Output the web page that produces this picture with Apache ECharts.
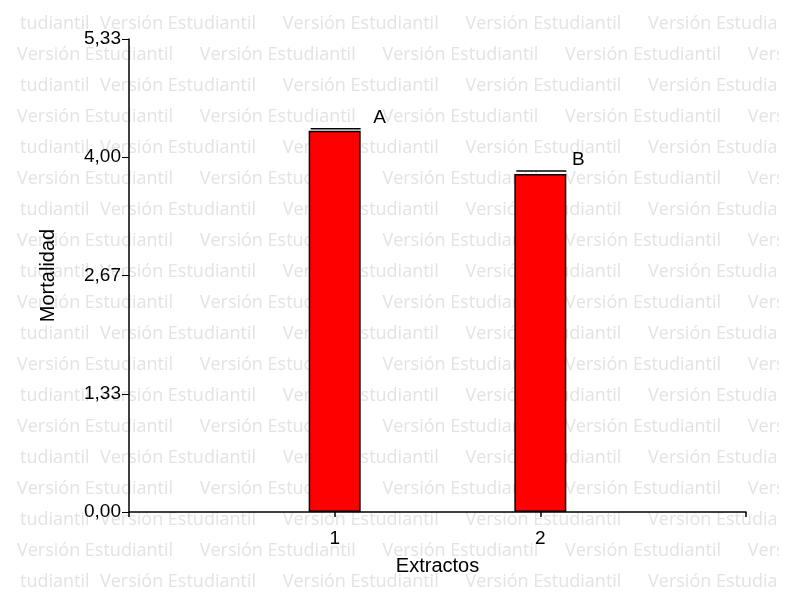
<!DOCTYPE html>
<html>
<head>
<meta charset="utf-8">
<script src="https://cdn.jsdelivr.net/npm/echarts@6/dist/echarts.min.js"></script>
<style>html,body{margin:0;padding:0;background:#fff;}#c{width:794px;height:594px;}</style>
</head>
<body>
<div id="c"></div>
<script>
var categories = [1, 2];
var categoryLabels = ['1', '2'];
var mortalidad = [4.30, 3.81];
var errorTop = [4.32, 3.845];
var groupLetters = ['A', 'B'];
var yTickLabels = ['0,00', '1,33', '2,67', '4,00', '5,33'];
var watermarkText = 'Versión Estudiantil';
var watermarkTail = 'tudiantil';

var chart = echarts.init(document.getElementById('c'), null, {renderer: 'canvas'});
var FONT = 'Liberation Sans';

var wm = [];
for (var i = 0; i < 19; i++) {
  var y = 24 + i * 31;
  var start = (i % 2 === 0) ? 100 : 17;
  if (i % 2 === 0) {
    wm.push({type: 'text', x: 20, y: y, z: -10, silent: true,
      style: {text: watermarkTail, font: '18px "Open Sans"', fill: '#e3e3e3', verticalAlign: 'middle'}});
  }
  for (var k = 0; k < 5; k++) {
    wm.push({
      type: 'text', x: start + k * 182.7, y: y, z: -10, silent: true,
      style: {text: watermarkText, font: '18px "Open Sans"', fill: '#e3e3e3',
              verticalAlign: 'middle'}
    });
  }
}
wm.push({type: 'rect', z: -9, silent: true, shape: {x: 779, y: 0, width: 20, height: 594}, style: {fill: '#fff'}});

var barData = categories.map(function (c, i) { return [c, mortalidad[i]]; });
var errData = categories.map(function (c, i) { return [c, errorTop[i], i]; });

chart.setOption({
  backgroundColor: '#fff',
  animation: false,
  graphic: wm,
  grid: {left: 129, right: 48, top: 39, bottom: 82},
  xAxis: {
    type: 'value', min: 0, max: 3, interval: 1,
    name: 'Extractos', nameLocation: 'middle', nameGap: 44,
    nameTextStyle: {fontFamily: FONT, fontSize: 20, color: '#000'},
    axisLine: {lineStyle: {color: '#000', width: 1.5}},
    axisTick: {show: true, length: 5, lineStyle: {color: '#000', width: 1.5}},
    axisLabel: {
      fontFamily: FONT, fontSize: 19, color: '#000', margin: 17,
      formatter: function (v) { var k = categories.indexOf(v); return k >= 0 ? categoryLabels[k] : ''; }
    },
    splitLine: {show: false}
  },
  yAxis: {
    type: 'value', min: 0, max: 16 / 3, interval: 4 / 3,
    name: 'Mortalidad', nameLocation: 'middle', nameGap: 71, nameRotate: 90,
    nameTextStyle: {fontFamily: FONT, fontSize: 20, color: '#000'},
    axisLine: {show: true, lineStyle: {color: '#000', width: 1.5}},
    axisTick: {show: true, length: 7, lineStyle: {color: '#000', width: 1}},
    axisLabel: {
      fontFamily: FONT, fontSize: 19, color: '#000', margin: 8,
      formatter: function (v) { return yTickLabels[Math.round(v / (4 / 3))]; }
    },
    splitLine: {show: false}
  },
  series: [
    {
      type: 'bar', data: barData, barWidth: 52,
      itemStyle: {color: '#ff0000', borderColor: '#000', borderWidth: 1.5},
      z: 2
    },
    {
      type: 'custom', data: errData, z: 3,
      renderItem: function (params, api) {
        var p = api.coord([api.value(0), api.value(1)]);
        var idx = api.value(2);
        return {
          type: 'group',
          children: [
            {type: 'line', shape: {x1: p[0] - 24, y1: p[1], x2: p[0] + 26, y2: p[1]},
             style: {stroke: '#000', lineWidth: 1.5}},
            {type: 'text', x: p[0] + (idx === 0 ? 45 : 38), y: p[1] - 11,
             style: {text: groupLetters[idx], font: '19px ' + FONT, fill: '#000',
                     align: 'center', verticalAlign: 'middle'}}
          ]
        };
      }
    }
  ]
});
</script>
</body>
</html>
